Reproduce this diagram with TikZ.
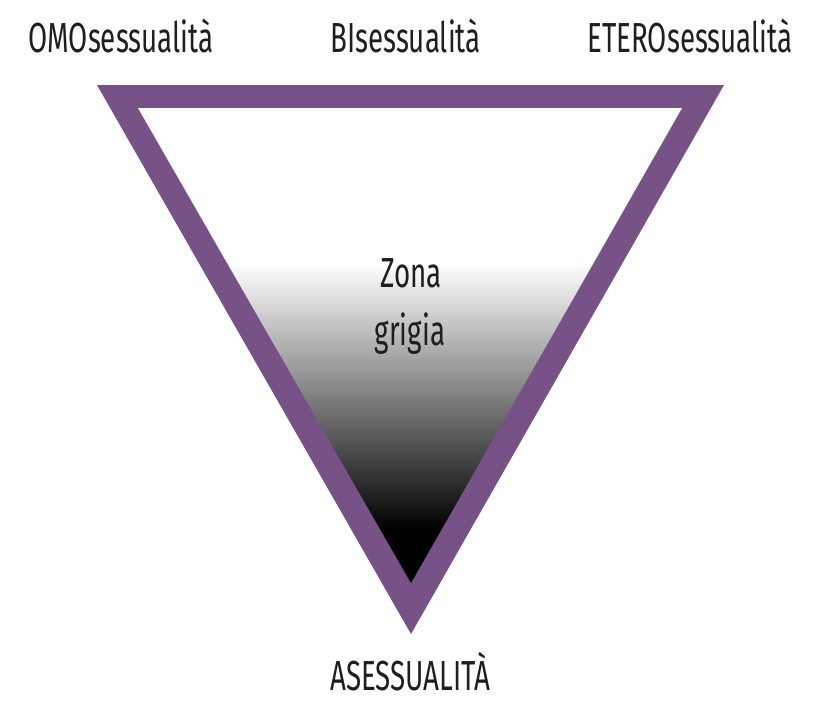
\documentclass[tikz,border=0pt]{standalone}
\usepackage{fontspec}
\setmainfont{Fira Sans}[FakeStretch=0.66]
\definecolor{tripurple}{RGB}{118,82,134}
\definecolor{txt}{RGB}{30,30,30}
\pgfdeclareverticalshading{grigia}{100bp}{color(0bp)=(black); color(30.6bp)=(black); color(58.7bp)=(white); color(100bp)=(white)}
\begin{document}
\begin{tikzpicture}[x=1pt,y=-1pt,
  lbl/.style={inner sep=0pt, anchor=base, text=txt, font=\fontsize{42}{48}\selectfont}]
\useasboundingbox (0,0) rectangle (824,713);
\fill[tripurple] (97,85) -- (724,85) -- (411,634) -- cycle;
\shade[shading=grigia] (138,108) -- (682,108) -- (411,583) -- cycle;
\node[lbl] (omo) at (121,52) {OMOsessualità};
\node[lbl] (bi) at (405.5,52) {BIsessualità};
\node[lbl] (etero) at (690,52) {ETEROsessualità};
\node[lbl] (ases) at (410.5,690) {ASESSUALITÀ};
\node[lbl] (zona) at (411,287) {Zona};
\node[lbl] (grigia) at (410,345) {grigia};
\end{tikzpicture}
\end{document}
